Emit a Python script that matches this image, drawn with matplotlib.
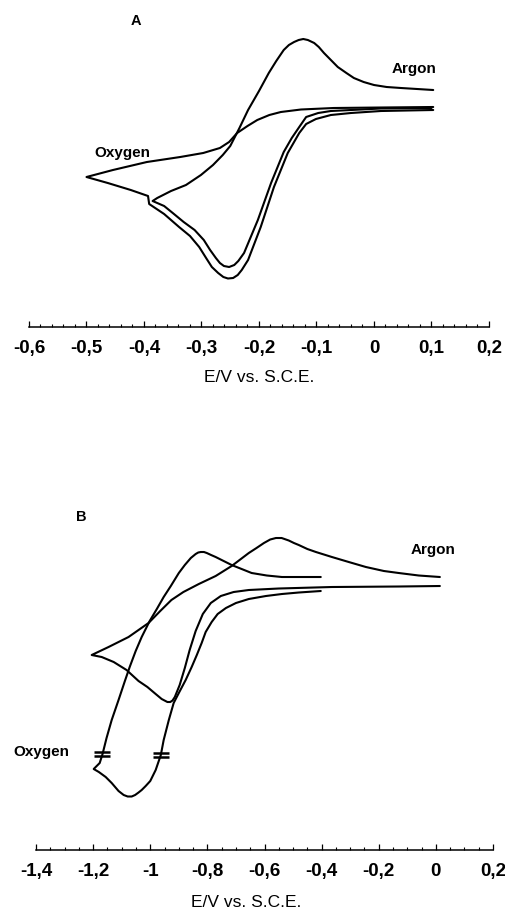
import matplotlib
matplotlib.use('Agg')
import matplotlib.pyplot as plt
import matplotlib.ticker as ticker
from matplotlib.path import Path

plt.rcParams['font.family'] = ['Liberation Sans', 'DejaVu Sans']

# ---- Panel A : potentiel (V vs SCE) et courant (unités arbitraires)
a_argon_E = [0.10, 0.012, -0.04, -0.075, -0.097, -0.118, -0.13, -0.143, -0.157, -0.179, -0.202,
             -0.226, -0.236, -0.243, -0.252, -0.261, -0.268, -0.275, -0.285, -0.296, -0.312,
             -0.331, -0.350, -0.365, -0.385,
             -0.377, -0.353, -0.327, -0.301, -0.280, -0.263, -0.250, -0.234, -0.219, -0.200,
             -0.183, -0.170, -0.157, -0.148, -0.139, -0.131, -0.123, -0.115, -0.104, -0.096,
             -0.087, -0.075, -0.063, -0.048, -0.035, -0.018, 0.0, 0.022, 0.047, 0.075, 0.103]
a_argon_i = [0.2, 0.15, 0.0, -0.1, -0.3, -0.7, -1.7, -2.8, -4.2, -7.3, -11.0,
             -14.3, -15.1, -15.5, -15.7, -15.6, -15.3, -14.8, -14.0, -13.0, -12.0,
             -11.2, -10.3, -9.6, -9.1,
             -8.8, -8.1, -7.5, -6.5, -5.5, -4.5, -3.6, -1.8, 0.0, 1.9,
             3.7, 4.9, 6.0, 6.5, 6.8, 7.0, 7.1, 7.0, 6.7, 6.3,
             5.7, 5.0, 4.3, 3.7, 3.2, 2.8, 2.5, 2.3, 2.2, 2.1, 2.0]

a_oxy_E = [0.103, 0.012, -0.04, -0.075, -0.101, -0.118, -0.13, -0.15, -0.174, -0.197,
           -0.219, -0.230, -0.237, -0.245, -0.254, -0.262, -0.271, -0.282, -0.292, -0.304,
           -0.320, -0.339, -0.365, -0.391,
           -0.393, -0.423, -0.463, -0.50,
           -0.454, -0.395, -0.337, -0.297, -0.268, -0.252, -0.238, -0.220, -0.203, -0.182,
           -0.162, -0.127, -0.07, 0.012, 0.103]
a_oxy_i = [0.0, -0.1, -0.3, -0.5, -0.9, -1.4, -2.3, -4.3, -7.7, -11.7,
           -15.0, -16.0, -16.5, -16.8, -16.85, -16.7, -16.3, -15.7, -14.8, -13.7,
           -12.6, -11.7, -10.4, -9.4,
           -8.6, -8.0, -7.3, -6.7,
           -6.0, -5.2, -4.7, -4.3, -3.8, -3.2, -2.3, -1.6, -1.0, -0.5,
           -0.2, 0.05, 0.2, 0.25, 0.3]

# ---- Panel B
b_argon_E = [0.014, -0.13, -0.364, -0.55, -0.655, -0.708, -0.753, -0.788, -0.816, -0.841,
             -0.862, -0.879, -0.897, -0.914, -0.922, -0.930, -0.940, -0.960, -0.981, -1.010,
             -1.041, -1.083, -1.128, -1.170, -1.205,
             -1.146, -1.076, -1.006, -0.965, -0.926, -0.884, -0.830, -0.771, -0.715,
             -0.655, -0.628, -0.602, -0.580, -0.560, -0.540, -0.515, -0.497, -0.480, -0.450,
             -0.420, -0.364, -0.305, -0.245, -0.182, -0.130, -0.060, 0.014]
b_argon_i = [0.2, 0.15, 0.1, -0.05, -0.2, -0.4, -0.8, -1.5, -2.6, -4.3,
             -6.2, -8.0, -9.7, -10.9, -11.25, -11.4, -11.4, -11.1, -10.6, -9.9,
             -9.3, -8.2, -7.4, -6.9, -6.7,
             -5.9, -4.9, -3.5, -2.3, -1.2, -0.4, 0.4, 1.2, 2.2,
             3.5, 4.0, 4.5, 4.85, 5.0, 5.0, 4.75, 4.5, 4.3, 3.9,
             3.6, 3.1, 2.6, 2.1, 1.7, 1.5, 1.25, 1.1]

b_oxy_E = [-0.403, -0.48, -0.539, -0.595, -0.655, -0.70, -0.735, -0.764, -0.785, -0.806,
           -0.820, -0.837, -0.855, -0.876, -0.90, -0.918, -0.935, -0.953, -0.963, -0.981,
           -1.000, -1.016, -1.030, -1.041, -1.053, -1.065, -1.079, -1.093, -1.111, -1.135,
           -1.156, -1.180, -1.198,
           -1.177, -1.167, -1.153, -1.135, -1.111, -1.090, -1.072, -1.051, -1.030,
           -1.002, -0.977, -0.953, -0.928, -0.900, -0.879, -0.858, -0.841, -0.832, -0.823,
           -0.812, -0.802, -0.787, -0.771, -0.743, -0.715, -0.680, -0.645, -0.592, -0.539,
           -0.48, -0.403]
b_oxy_i = [-0.3, -0.45, -0.6, -0.8, -1.1, -1.5, -2.0, -2.6, -3.4, -4.4,
           -5.5, -6.7, -7.9, -9.2, -10.5, -11.5, -13.2, -15.2, -16.7, -18.2,
           -19.3, -19.8, -20.2, -20.45, -20.7, -20.85, -20.85, -20.7, -20.3, -19.5,
           -18.9, -18.4, -18.1,
           -17.5, -16.6, -15.0, -13.2, -11.2, -9.4, -7.9, -6.3, -4.9,
           -3.3, -2.1, -0.9, 0.2, 1.5, 2.3, 3.0, 3.4, 3.55, 3.6,
           3.6, 3.5, 3.3, 3.1, 2.7, 2.3, 1.9, 1.5, 1.25, 1.1,
           1.1, 1.1]

# marques de coupure sur la courbe oxygène (B)
brk_E = [-1.168, -0.963]
brk_i = [-16.6, -16.7]

ticks_A = [-0.6, -0.5, -0.4, -0.3, -0.2, -0.1, 0, 0.1, 0.2]
labels_A = ['-0,6', '-0,5', '-0,4', '-0,3', '-0,2', '-0,1', '0', '0,1', '0,2']
ticks_B = [-1.4, -1.2, -1.0, -0.8, -0.6, -0.4, -0.2, 0, 0.2]
labels_B = ['-1,4', '-1,2', '-1', '-0,8', '-0,6', '-0,4', '-0,2', '0', '0,2']

fig = plt.figure(figsize=(5.06, 9.13), dpi=100)
axA = fig.add_axes([0.05731, 0.64184, 0.90909, 0.35268])
axB = fig.add_axes([0.07115, 0.06900, 0.90316, 0.39430])

lw = 1.5
style = dict(color='black', lw=lw, solid_joinstyle='round', solid_capstyle='round')
axA.plot(a_argon_E, a_argon_i, **style)
axA.plot(a_oxy_E, a_oxy_i, **style)
axB.plot(b_argon_E, b_argon_i, **style)
axB.plot(b_oxy_E, b_oxy_i, **style)

# symbole "=" pour les coupures
brk = Path([(-1, 0.22), (1, 0.22), (-1, -0.22), (1, -0.22)],
           [Path.MOVETO, Path.LINETO, Path.MOVETO, Path.LINETO])
axB.plot(brk_E, brk_i, ls='none', marker=brk, markersize=11,
         markeredgewidth=1.8, color='black')

axA.set_xlim(-0.6, 0.2)
axA.set_ylim(-21.7, 10.5)
axB.set_xlim(-1.4, 0.2)
axB.set_ylim(-26.2, 9.8)

for ax, tk, lb, minor in [(axA, ticks_A, labels_A, 0.02), (axB, ticks_B, labels_B, 0.05)]:
    for s in ['top', 'left', 'right']:
        ax.spines[s].set_visible(False)
    ax.spines['bottom'].set_linewidth(1.1)
    ax.set_yticks([])
    ax.set_xticks(tk)
    ax.set_xticklabels(lb)
    ax.xaxis.set_minor_locator(ticker.MultipleLocator(minor))
    ax.tick_params(axis='x', which='major', direction='in', length=4.5, width=0.9,
                   pad=9, labelsize=13.5)
    ax.tick_params(axis='x', which='minor', direction='in', length=2.2, width=0.8)
    for t in ax.get_xticklabels():
        t.set_fontweight('bold')
    ax.set_xlabel('E/V vs. S.C.E.', fontsize=12.5)
    ax.patch.set_alpha(0)

axA.xaxis.set_label_coords(0.5, -0.135)
axB.xaxis.set_label_coords(0.46, -0.125)

axA.text(-0.414, 8.9, 'A', fontsize=10.5, fontweight='bold', ha='center', va='center')
axA.text(-0.437, -4.3, 'Oxygen', fontsize=11, fontweight='bold', ha='center', va='center')
axA.text(0.070, 4.1, 'Argon', fontsize=11, fontweight='bold', ha='center', va='center')
axB.text(-1.240, 7.1, 'B', fontsize=10.5, fontweight='bold', ha='center', va='center')
axB.text(-0.011, 3.8, 'Argon', fontsize=11, fontweight='bold', ha='center', va='center')
axB.text(-1.380, -16.4, 'Oxygen', fontsize=11, fontweight='bold', ha='center', va='center')

fig.savefig('out.png', dpi=100)
